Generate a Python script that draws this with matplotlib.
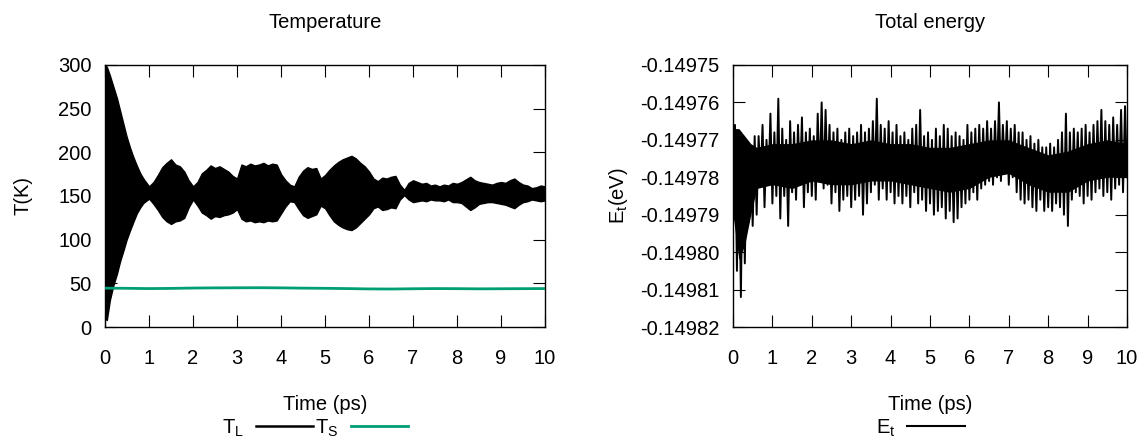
import numpy as np
import matplotlib
matplotlib.use("Agg")
import matplotlib.pyplot as plt
from matplotlib.lines import Line2D
from matplotlib.ticker import MultipleLocator, FormatStrFormatter

plt.rcParams['font.family'] = ['Liberation Sans', 'DejaVu Sans']
plt.rcParams['mathtext.fontset'] = 'custom'
plt.rcParams['mathtext.rm'] = 'Liberation Sans'
plt.rcParams['mathtext.it'] = 'Liberation Sans:italic'
plt.rcParams['axes.unicode_minus'] = False

FS = 14.5
C_TS = '#009e73'

# ---- lattice temperature T_L: oscillation envelope (ps, K) ----
tl_t = [0.0, 0.04, 0.11, 0.19, 0.27, 0.34, 0.42, 0.49, 0.57, 0.64, 0.72, 0.80, 0.87,
        1.0, 1.1, 1.2, 1.3, 1.4, 1.5, 1.6, 1.7, 1.8, 1.9,
        2.0, 2.1, 2.2, 2.3, 2.4, 2.5, 2.6, 2.7, 2.8, 2.9,
        3.0, 3.1, 3.2, 3.3, 3.4, 3.5, 3.6, 3.7, 3.8, 3.9,
        4.0, 4.1, 4.2, 4.3, 4.4, 4.5, 4.6, 4.7, 4.8, 4.9,
        5.0, 5.1, 5.2, 5.3, 5.4, 5.5, 5.6, 5.7, 5.8, 5.9,
        6.0, 6.1, 6.2, 6.3, 6.4, 6.5, 6.6, 6.7, 6.8, 6.9,
        7.0, 7.1, 7.2, 7.3, 7.4, 7.5, 7.6, 7.7, 7.8, 7.9,
        8.0, 8.1, 8.2, 8.3, 8.4, 8.5, 8.6, 8.7, 8.8, 8.9,
        9.0, 9.1, 9.2, 9.3, 9.4, 9.5, 9.6, 9.7, 9.8, 9.9, 10.0]
tl_hi = [300, 298, 288, 275, 262, 248, 232, 218, 205, 195, 185, 176, 170,
         161, 166, 174, 183, 188, 192, 186, 184, 178, 168,
         161, 166, 176, 180, 185, 182, 184, 181, 178, 173,
         170, 186, 184, 187, 185, 186, 188, 185, 187, 186,
         175, 168, 163, 161, 172, 179, 183, 181, 182, 170,
         174, 180, 185, 189, 192, 194, 196, 193, 188, 184,
         178, 170, 167, 171, 170, 172, 173, 163, 157, 165,
         168, 166, 164, 165, 162, 163, 161, 163, 162, 165,
         164, 166, 169, 172, 168, 166, 165, 164, 163, 165,
         166, 165, 168, 170, 166, 163, 162, 159, 160, 162, 161]
tl_lo = [10, 8, 31, 48, 61, 75, 88, 100, 111, 120, 130, 137, 142,
         147, 141, 134, 126, 121, 118, 121, 122, 125, 137,
         146, 139, 131, 128, 124, 127, 126, 128, 129, 131,
         135, 124, 121, 122, 120, 121, 120, 122, 121, 122,
         130, 138, 144, 143, 135, 128, 125, 127, 129, 139,
         136, 128, 121, 117, 114, 112, 111, 114, 119, 124,
         129, 136, 138, 134, 135, 137, 136, 146, 151, 146,
         143, 144, 145, 144, 146, 145, 145, 144, 146, 143,
         143, 142, 138, 134, 137, 141, 142, 143, 143, 142,
         141, 140, 138, 136, 140, 143, 144, 146, 145, 144, 145]

# ---- spin temperature T_S (ps, K) ----
ts_t = [0.0, 0.5, 1.0, 1.5, 2.0, 2.5, 3.0, 3.5, 4.0, 4.5, 5.0,
        5.5, 6.0, 6.5, 7.0, 7.5, 8.0, 8.5, 9.0, 9.5, 10.0]
ts_vals = [44.5, 44.3, 44.0, 44.2, 44.6, 44.8, 44.9, 45.0, 44.8, 44.5, 44.3,
           44.0, 43.6, 43.5, 43.8, 44.0, 43.9, 43.7, 43.8, 43.9, 44.0]

# ---- total energy E_t (eV), sampled every 0.05 ps from 0 to 10 ps ----
et_vals = [
    -0.149788, -0.149766, -0.149805, -0.149768, -0.149812, -0.149770, -0.149803, -0.149771, -0.149792, -0.149773,
    -0.149793, -0.149769, -0.149790, -0.149769, -0.149781, -0.149766, -0.149788, -0.149770, -0.149782, -0.149763,
    -0.149787, -0.149768, -0.149785, -0.149759, -0.149791, -0.149767, -0.149785, -0.149770, -0.149793, -0.149765,
    -0.149784, -0.149768, -0.149786, -0.149766, -0.149782, -0.149764, -0.149788, -0.149768, -0.149784, -0.149767,
    -0.149785, -0.149769, -0.149786, -0.149763, -0.149781, -0.149760, -0.149783, -0.149762, -0.149782, -0.149766,
    -0.149787, -0.149768, -0.149784, -0.149767, -0.149789, -0.149770, -0.149786, -0.149768, -0.149785, -0.149767,
    -0.149788, -0.149769, -0.149786, -0.149768, -0.149785, -0.149766, -0.149790, -0.149768, -0.149787, -0.149767,
    -0.149784, -0.149765, -0.149782, -0.149759, -0.149786, -0.149766, -0.149783, -0.149767, -0.149786, -0.149765,
    -0.149784, -0.149768, -0.149787, -0.149766, -0.149785, -0.149769, -0.149787, -0.149768, -0.149785, -0.149770,
    -0.149788, -0.149767, -0.149784, -0.149766, -0.149787, -0.149762, -0.149786, -0.149769, -0.149789, -0.149768,
    -0.149787, -0.149770, -0.149790, -0.149767, -0.149789, -0.149769, -0.149788, -0.149766, -0.149791, -0.149767,
    -0.149789, -0.149769, -0.149792, -0.149768, -0.149791, -0.149769, -0.149788, -0.149770, -0.149787, -0.149766,
    -0.149786, -0.149768, -0.149784, -0.149767, -0.149786, -0.149766, -0.149783, -0.149767, -0.149782, -0.149765,
    -0.149781, -0.149767, -0.149782, -0.149765, -0.149780, -0.149760, -0.149781, -0.149766, -0.149779, -0.149765,
    -0.149782, -0.149767, -0.149780, -0.149766, -0.149784, -0.149768, -0.149786, -0.149768, -0.149787, -0.149770,
    -0.149786, -0.149769, -0.149788, -0.149771, -0.149789, -0.149770, -0.149786, -0.149772, -0.149789, -0.149772,
    -0.149788, -0.149771, -0.149789, -0.149772, -0.149787, -0.149770, -0.149788, -0.149768, -0.149790, -0.149763,
    -0.149793, -0.149768, -0.149786, -0.149767, -0.149784, -0.149768, -0.149785, -0.149767, -0.149787, -0.149766,
    -0.149785, -0.149768, -0.149786, -0.149766, -0.149784, -0.149765, -0.149783, -0.149762, -0.149785, -0.149765,
    -0.149784, -0.149766, -0.149786, -0.149764, -0.149783, -0.149766, -0.149782, -0.149762, -0.149784, -0.149761,
    -0.149780,
]
et_t = np.linspace(0.0, 10.0, len(et_vals))

# dense core of the E_t fluctuations (ps, eV)
core_t = [0.0, 0.15, 0.3, 0.45, 0.6, 1.0, 1.5, 2.0, 2.5, 3.0, 3.5, 4.0,
          4.5, 5.0, 5.5, 6.0, 6.5, 7.0, 7.5, 8.0, 8.5, 9.0, 9.5, 10.0]
core_hi = [-0.149767, -0.149767, -0.149769, -0.149771, -0.149772, -0.149771,
           -0.149771, -0.149770, -0.149770, -0.149771, -0.149770, -0.149771,
           -0.149771, -0.149772, -0.149772, -0.149771, -0.149770, -0.149770,
           -0.149772, -0.149774, -0.149773, -0.149771, -0.149770, -0.149771]
core_lo = [-0.149790, -0.149802, -0.149798, -0.149790, -0.149783, -0.149782,
           -0.149783, -0.149781, -0.149782, -0.149782, -0.149781, -0.149781,
           -0.149782, -0.149783, -0.149784, -0.149783, -0.149780, -0.149779,
           -0.149782, -0.149784, -0.149784, -0.149781, -0.149780, -0.149780]


def style_ax(ax):
    for sp in ax.spines.values():
        sp.set_linewidth(1.0)
        sp.set_color('black')
    ax.tick_params(which='major', direction='in', length=8.5, width=0.8,
                   top=True, right=True, labelsize=FS, pad=15.5)
    ax.tick_params(axis='y', pad=9.5)
    ax.xaxis.set_major_locator(MultipleLocator(1))
    ax.set_xlim(0, 10)


fig = plt.figure(figsize=(11.48, 4.46), dpi=100)
ax1 = fig.add_axes([0.0915, 0.2668, 0.3833, 0.5875])
ax2 = fig.add_axes([0.6385, 0.2668, 0.3432, 0.5875])

# ── Temperature panel ─────────────────────────────────────────────────────────
ax1.fill_between(tl_t, tl_lo, tl_hi, color='black', linewidth=1.0, zorder=2)
ax1.plot(ts_t, ts_vals, color=C_TS, linewidth=2.0, zorder=3)
ax1.set_ylim(0, 300)
ax1.yaxis.set_major_locator(MultipleLocator(50))
style_ax(ax1)
ax1.set_title('Temperature', fontsize=FS, pad=26.5)
ax1.set_ylabel('T(K)', fontsize=FS)
ax1.yaxis.set_label_coords(-0.165, 0.5)
ax1.set_xlabel('Time (ps)', fontsize=FS)
ax1.xaxis.set_label_coords(0.5, -0.294)
ax1.xaxis.label.set_verticalalignment('center')

h_tl = Line2D([], [], color='black', linewidth=1.8)
h_ts = Line2D([], [], color=C_TS, linewidth=2.0)
ax1.legend([h_tl, h_ts], [r'T$_\mathrm{L}$', r'T$_\mathrm{S}$'],
           loc='center', bbox_to_anchor=(0.477, -0.385), ncol=2,
           markerfirst=False, frameon=False, fontsize=FS,
           handlelength=2.85, handletextpad=0.6, columnspacing=0.1,
           borderpad=0, borderaxespad=0)

# ── Total energy panel ────────────────────────────────────────────────────────
ax2.fill_between(core_t, core_lo, core_hi, color='black', linewidth=0, zorder=2)
ax2.plot(et_t, et_vals, color='black', linewidth=1.4, zorder=2)
ax2.set_ylim(-0.14982, -0.14975)
ax2.yaxis.set_major_locator(MultipleLocator(0.00001))
ax2.yaxis.set_major_formatter(FormatStrFormatter('%.5f'))
style_ax(ax2)
ax2.set_title('Total energy', fontsize=FS, pad=26.5)
ax2.set_ylabel(r'E$_\mathrm{t}$(eV)', fontsize=FS)
ax2.yaxis.set_label_coords(-0.261, 0.5)
ax2.set_xlabel('Time (ps)', fontsize=FS)
ax2.xaxis.set_label_coords(0.5, -0.294)
ax2.xaxis.label.set_verticalalignment('center')

h_et = Line2D([], [], color='black', linewidth=1.5)
ax2.legend([h_et], [r'E$_\mathrm{t}$'],
           loc='center', bbox_to_anchor=(0.475, -0.385),
           markerfirst=False, frameon=False, fontsize=FS,
           handlelength=2.85, handletextpad=0.6,
           borderpad=0, borderaxespad=0)

fig.savefig('out.png', dpi=100)
